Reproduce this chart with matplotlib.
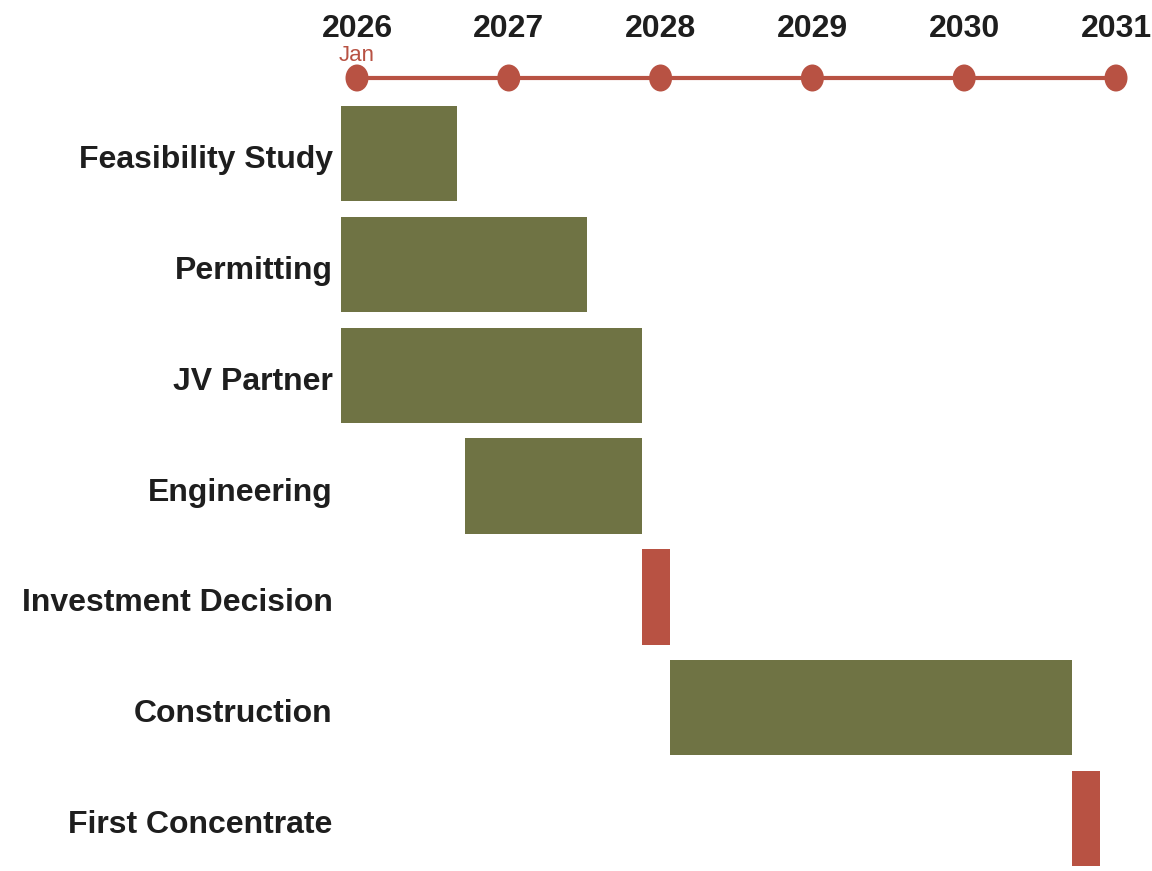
import matplotlib
matplotlib.use("Agg")
import matplotlib.pyplot as plt
from matplotlib.patches import Ellipse

plt.rcParams['font.family'] = ['Liberation Sans', 'DejaVu Sans']

# Data (months from Jan 2026)
tasks = ["Feasibility Study", "Permitting", "JV Partner", "Engineering",
         "Investment Decision", "Construction", "First Concentrate"]
starts = [0.0, 0.0, 0.0, 9.8, 23.8, 26.0, 57.8]
ends = [9.2, 19.45, 23.8, 23.8, 26.0, 57.8, 60.0]
milestone = [False, False, False, False, True, False, True]
years = [2026, 2027, 2028, 2029, 2030, 2031]
first_month_label = "Jan"

OLIVE = "#6f7344"
RED = "#b85243"
TEXT = "#1e1e1e"

W, H = 1152, 871
fig = plt.figure(figsize=(W / 100, H / 100), dpi=100)

# Bars axes
ax = fig.add_axes([341 / W, 0, 759 / W, 1])
pitch = 110.8
c0 = 153.7
ax.set_xlim(0, 60)
ax.set_ylim((H - c0) / pitch, -c0 / pitch)
for i, (s, e, m) in enumerate(zip(starts, ends, milestone)):
    ax.barh(i, e - s, left=s, height=0.86, color=RED if m else OLIVE, linewidth=0)
label_offset = 3 / pitch  # labels sit slightly below bar centres
ax.set_yticks([i + label_offset for i in range(len(tasks))])
ax.set_yticklabels(tasks, fontsize=23, fontweight='bold', color=TEXT)
for lbl in ax.get_yticklabels():
    lbl.set_verticalalignment('center_baseline')
ax.tick_params(axis='y', length=0, pad=6)
ax.set_xticks([])
for sp in ax.spines.values():
    sp.set_visible(False)
ax.patch.set_visible(False)

# Timeline axes (top)
tl = fig.add_axes([0, 1 - 110 / H, 1, 110 / H])
ppy = (1116 - 357) / 5.0
x0 = 2026 - 357 / ppy
x1 = 2026 + (W - 357) / ppy
tl.set_xlim(x0, x1)
tl.set_ylim(110, 0)
tl.axis('off')
tl.plot([years[0], years[-1]], [78, 78], color=RED, lw=3, solid_capstyle='butt', zorder=1)
for y in years:
    tl.add_patch(Ellipse((y, 78), width=23 / ppy, height=27, color=RED, zorder=2, linewidth=0))
    tl.text(y, 37, str(y), ha='center', va='baseline', fontsize=23, fontweight='bold', color=TEXT)
tl.text(years[0], 61, first_month_label, ha='center', va='baseline', fontsize=16, color=RED)

fig.savefig("out.png", dpi=100)
